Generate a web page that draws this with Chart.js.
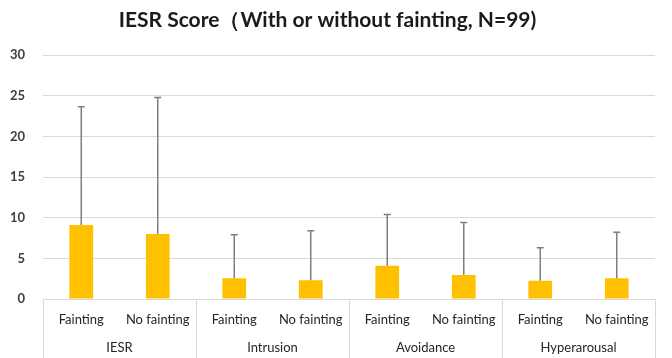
<!DOCTYPE html>
<html>
<head>
<meta charset="utf-8">
<script src="https://cdn.jsdelivr.net/npm/chart.js@4"></script>
<style>
    html, body { margin: 0; padding: 0; background: #fff; }
    #wrap { width: 672px; height: 358px; }
</style>
</head>
<body>
<div id="wrap"><canvas id="iesrChart"></canvas></div>
<script>
const groups = ["IESR", "Intrusion", "Avoidance", "Hyperarousal"];
const subLabels = ["Fainting", "No fainting", "Fainting", "No fainting", "Fainting", "No fainting", "Fainting", "No fainting"];
const means = [9.1, 8.0, 2.55, 2.3, 4.1, 2.95, 2.25, 2.55];
const sd = [14.55, 16.8, 5.35, 6.1, 6.3, 6.45, 4.05, 5.65];
const yTicks = [0, 5, 10, 15, 20, 25, 30];

// error bars (mean + SD) drawn on top of the bars
const errorBars = {
    id: "errorBars",
    afterDatasetsDraw(chart) {
        const ctx = chart.ctx;
        const y = chart.scales.y;
        const meta = chart.getDatasetMeta(0);
        ctx.save();
        ctx.strokeStyle = "#7f7f7f";
        ctx.lineWidth = 1.5;
        meta.data.forEach(function (bar, i) {
            const top = y.getPixelForValue(means[i] + sd[i]);
            ctx.beginPath();
            ctx.moveTo(bar.x, bar.y);
            ctx.lineTo(bar.x, top);
            ctx.moveTo(bar.x - 3.5, top);
            ctx.lineTo(bar.x + 3.5, top);
            ctx.stroke();
        });
        ctx.restore();
    }
};

// vertical separators between the groups under the axis
const groupLines = {
    id: "groupLines",
    afterDraw(chart) {
        const ctx = chart.ctx;
        const x = chart.scales.x;
        const bottom = chart.chartArea.bottom;
        ctx.save();
        ctx.strokeStyle = "#d9d9d9";
        ctx.lineWidth = 1;
        for (let g = 0; g <= groups.length; g++) {
            let px;
            if (g === 0) px = x.left;
            else if (g === groups.length) px = x.right;
            else px = (x.getPixelForValue(2 * g - 1) + x.getPixelForValue(2 * g)) / 2;
            px = Math.round(px) + 0.5;
            ctx.beginPath();
            ctx.moveTo(px, bottom);
            ctx.lineTo(px, chart.height);
            ctx.stroke();
        }
        ctx.restore();
    }
};

new Chart("iesrChart", {
    type: "bar",
    data: {
        labels: subLabels,
        datasets: [{
            data: means,
            backgroundColor: "#ffc000",
            categoryPercentage: 1,
            barPercentage: 0.31
        }]
    },
    plugins: [errorBars, groupLines],
    options: {
        responsive: true,
        maintainAspectRatio: false,
        animation: false,
        layout: { padding: { left: 0, right: 17, top: 0, bottom: 0 } },
        plugins: {
            legend: { display: false },
            tooltip: { enabled: false },
            title: {
                display: true,
                text: "IESR Score（With or without fainting, N=99)",
                color: "#1a1a1a",
                font: { family: "Lato", size: 21, weight: "bold" },
                padding: { top: 8, bottom: 22 }
            }
        },
        scales: {
            x: {
                grid: { display: false, drawTicks: false },
                border: { display: true, color: "#d9d9d9" },
                ticks: {
                    color: "#262626",
                    font: { family: "Lato", size: 13 },
                    padding: 13,
                    maxRotation: 0,
                    autoSkip: false
                },
                afterFit: function (axis) { axis.height = 41; }
            },
            x2: {
                type: "category",
                position: "bottom",
                labels: groups,
                grid: { display: false, drawTicks: false },
                border: { display: false },
                ticks: {
                    color: "#262626",
                    font: { family: "Lato", size: 13 },
                    padding: 0,
                    maxRotation: 0
                },
                afterFit: function (axis) { axis.height = 18; }
            },
            y: {
                min: 0,
                max: 30,
                afterBuildTicks: function (axis) {
                    axis.ticks = yTicks.map(function (v) { return { value: v }; });
                },
                grid: { color: "#d9d9d9", drawTicks: false },
                border: { display: false },
                ticks: {
                    color: "#404040",
                    font: { family: "Lato", size: 13, weight: "bold" },
                    padding: 18
                },
                afterFit: function (axis) { axis.width = 43; }
            }
        }
    }
});
</script>
</body>
</html>
